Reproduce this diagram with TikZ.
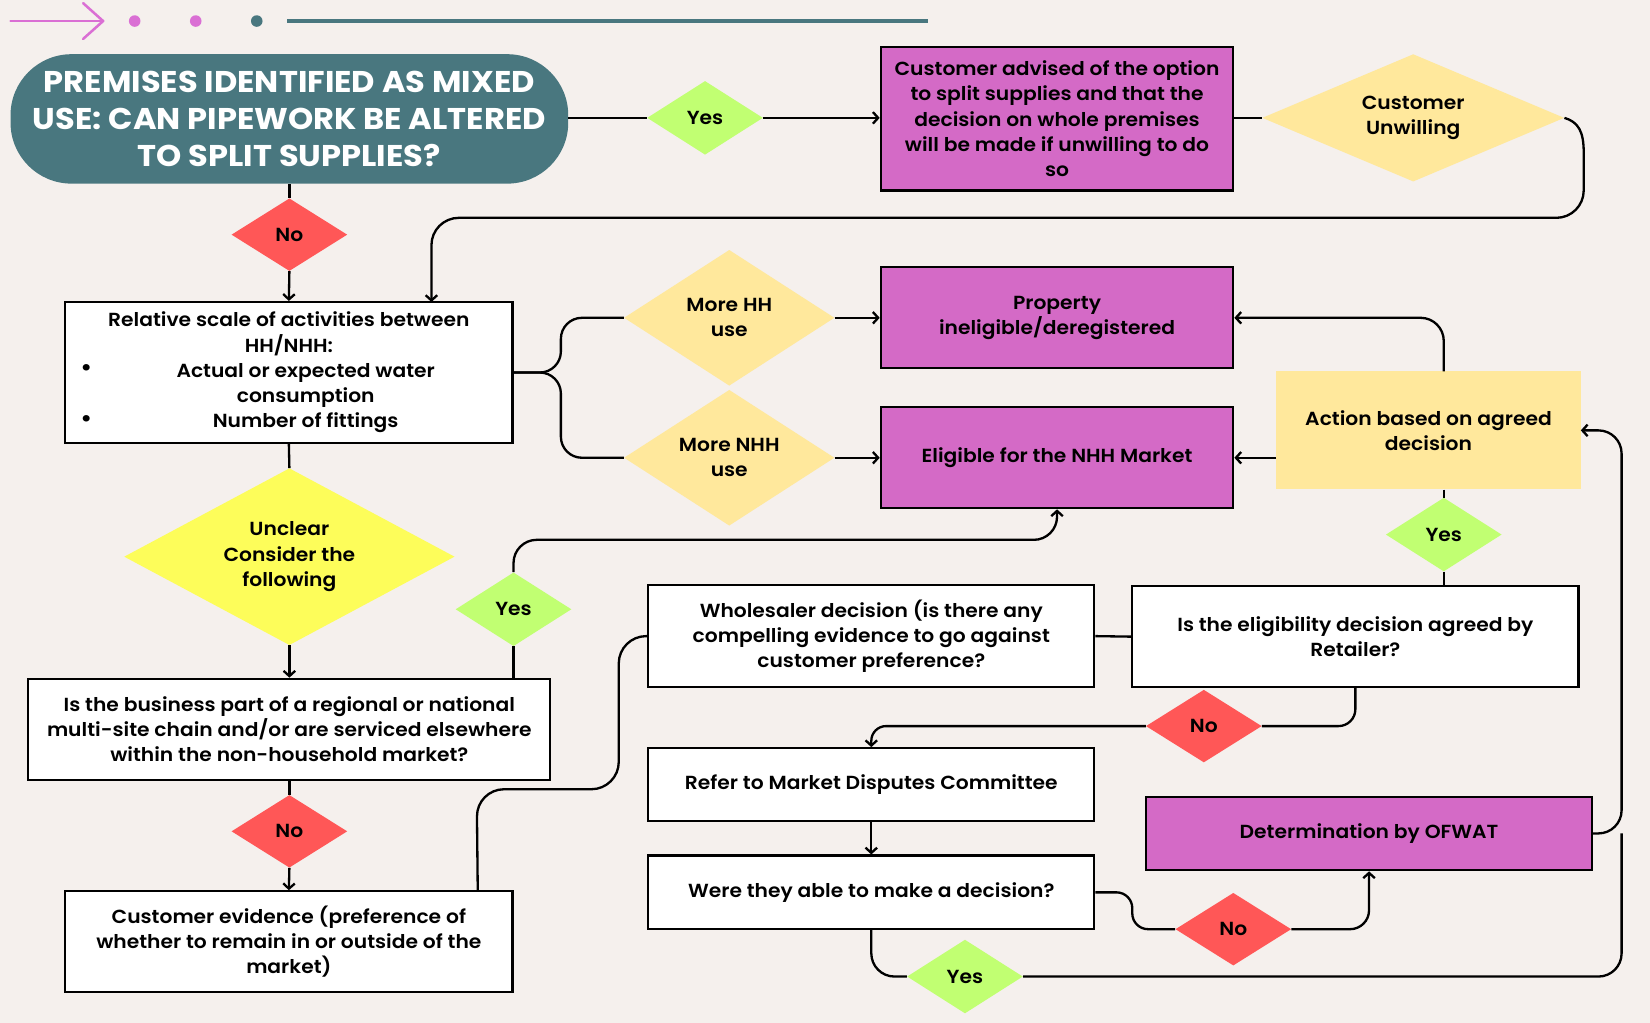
\documentclass[tikz,border=0pt]{standalone}
\usepackage{fontspec}
\setmainfont{Poppins}[UprightFont=* SemiBold, BoldFont=* Bold, FakeStretch=1.07]
\usetikzlibrary{shapes.geometric,arrows.meta}

\definecolor{bgc}{HTML}{F5F0ED}
\definecolor{tealc}{HTML}{49777F}
\definecolor{purpc}{HTML}{D46AC6}
\definecolor{greenc}{HTML}{C1FF72}
\definecolor{redc}{HTML}{FF5757}
\definecolor{paley}{HTML}{FFE89C}
\definecolor{brighty}{HTML}{FDFD5A}
\definecolor{pinkc}{HTML}{DA6FD4}

\newcommand{\bodyfs}{\fontsize{18}{24}\selectfont}

\tikzset{
  box/.style={draw=black, line width=2pt, fill=white, align=center,
    inner sep=0pt, font=\bodyfs},
  purplebox/.style={box, fill=purpc},
  dia/.style={diamond, inner sep=0pt, align=center, font=\bodyfs},
  yesdia/.style={dia, fill=greenc, minimum width=110pt, minimum height=70pt, shape aspect=1.6},
  nodia/.style={dia, fill=redc, minimum width=110pt, minimum height=69pt, shape aspect=1.6},
  usedia/.style={dia, fill=paley, minimum width=200pt, minimum height=129pt, shape aspect=1.55},
  link/.style={line width=2.2pt, rounded corners=22pt},
  arr/.style={link, -{Straight Barb[length=5pt,width=11pt]}},
}

\begin{document}
\begin{tikzpicture}[x=1pt, y=-1pt]
  \useasboundingbox[fill=bgc] (0,0) rectangle (1568,972);

  % header ornament
  \draw[pinkc, line width=2.4pt, line cap=round] (10,20) -- (98,20);
  \draw[pinkc, line width=2.4pt, line cap=round, line join=round] (79,3) -- (98,20) -- (79,37);
  \fill[pinkc] (128,20) circle (5.5);
  \fill[pinkc] (186,20) circle (5.5);
  \fill[tealc] (244,20) circle (5.5);
  \draw[tealc, line width=3pt] (273,20) -- (882,20);

  % title
  \node[fill=tealc, rounded corners=58pt, minimum width=530pt, minimum height=123pt,
        inner sep=0pt, align=center, text=white,
        font=\fontsize{28.5}{35.5}\selectfont\bfseries] (title) at (275,113)
    {PREMISES IDENTIFIED AS MIXED\\USE: CAN PIPEWORK BE ALTERED\\TO SPLIT SUPPLIES?};

  % top row
  \node[yesdia] (yesT) at (670,112) {Yes};
  \node[purplebox, minimum width=335pt, minimum height=136pt] (adv) at (1004.5,113)
    {Customer advised of the option\\to split supplies and that the\\decision on whole premises\\will be made if unwilling to do\\so};
  \node[dia, fill=paley, minimum width=287pt, minimum height=121pt, shape aspect=2.37] (unw) at (1343,112)
    {Customer\\Unwilling};

  % left column
  \node[nodia] (noT) at (275,223) {No};
  \node[box, minimum width=425pt, minimum height=134pt] (rel) at (274.5,354)
    {Relative scale of activities between\\HH/NHH:\\\hspace*{32pt}Actual or expected water\\\hspace*{32pt}consumption\\\hspace*{32pt}Number of fittings};
  \node[font=\fontsize{22}{24}\selectfont, inner sep=0pt] (bul1) at (82,352) {\textbullet};
  \node[font=\fontsize{22}{24}\selectfont, inner sep=0pt] (bul2) at (82,400) {\textbullet};
  \node[dia, fill=brighty, minimum width=314pt, minimum height=168pt, shape aspect=1.87] (unc) at (275,529)
    {Unclear\\Consider the\\following};
  \node[box, minimum width=496pt, minimum height=96pt] (bus) at (275,693)
    {Is the business part of a regional or national\\multi-site chain and/or are serviced elsewhere\\within the non-household market?};
  \node[yesdia] (yesL) at (488,579) {Yes};
  \node[nodia] (noL) at (275,790) {No};
  \node[box, minimum width=425pt, minimum height=96pt] (cust) at (274.5,895)
    {Customer evidence (preference of\\whether to remain in or outside of the\\market)};

  % middle column
  \node[usedia] (hh) at (693,302) {More HH\\use};
  \node[usedia] (nhh) at (693,435) {More NHH\\use};
  \node[purplebox, minimum width=335pt, minimum height=96pt] (prop) at (1004.5,302)
    {Property\\ineligible/deregistered};
  \node[purplebox, minimum width=335pt, minimum height=96pt] (elig) at (1004.5,435)
    {Eligible for the NHH Market};
  \node[box, minimum width=424pt, minimum height=97pt] (whole) at (828,604.5)
    {Wholesaler decision (is there any\\compelling evidence to go against\\customer preference?};
  \node[box, minimum width=424pt, minimum height=69pt] (refer) at (828,745.5)
    {Refer to Market Disputes Committee};
  \node[box, minimum width=424pt, minimum height=70pt] (were) at (828,848)
    {Were they able to make a decision?};
  \node[yesdia] (yesW) at (917,928) {Yes};

  % right column
  \node[fill=paley, minimum width=289pt, minimum height=112pt, inner sep=0pt,
        align=center, font=\bodyfs] (act) at (1357.5,409)
    {Action based on agreed\\decision};
  \node[yesdia] (yesR) at (1372,508) {Yes};
  \node[box, minimum width=424pt, minimum height=96pt] (ret) at (1288,605)
    {Is the eligibility decision agreed by\\Retailer?};
  \node[nodia] (noR) at (1144,690) {No};
  \node[purplebox, minimum width=424pt, minimum height=70pt] (ofw) at (1301,792)
    {Determination by OFWAT};
  \node[nodia] (noW) at (1172,883) {No};

  % connectors
  \draw[link] (title.east |- yesT.west) -- (yesT.west);
  \draw[arr] (yesT.east) -- (adv.west |- yesT.east);
  \draw[link] (adv.east |- unw.west) -- (unw.west);
  \draw[line width=2.2pt, -{Straight Barb[length=5pt,width=11pt]}]
    (unw.east) .. controls (1500,116) and (1505,125) .. (1505,145)
    [rounded corners=26pt] -- (1505,207) -- (410,207) -- (410,287);

  \draw[link] (title.south) -- (noT.north);
  \draw[arr] (noT.south) -- (rel.north);

  \draw[link, rounded corners=20pt] (rel.east) -- (533,354) -- (533,302) -- (hh.west);
  \draw[link, rounded corners=20pt] (rel.east) -- (533,354) -- (533,435) -- (nhh.west);
  \draw[arr] (hh.east) -- (prop.west);
  \draw[arr] (nhh.east) -- (elig.west);

  \draw[arr] (act.north -| yesR.north) |- (prop.east);
  \draw[arr] (act.west |- elig.east) -- (elig.east);
  \draw[link] (act.south -| yesR.north) -- (yesR.north);
  \draw[link] (yesR.south) -- (yesR.south |- ret.north);

  \draw[link] (whole.east) -- (ret.west);
  \draw[link, rounded corners=16pt] (ret.south) |- (noR.east);
  \draw[arr, rounded corners=14pt] (noR.west) -| (refer.north);
  \draw[arr] (refer.south) -- (were.north);

  \draw[link, rounded corners=15pt] (were.east) -- ++(35,0) |- (noW.west);
  \draw[arr, rounded corners=18pt] (noW.east) -| (ofw.south);
  \draw[arr] (ofw.east) -- ++(27,0) |- (act.east);
  \draw[link] (were.south) |- (yesW.west);
  \draw[link] (yesW.east) -| ([xshift=27pt]ofw.east);

  \draw[link] (rel.south) -- (unc.north);
  \draw[arr] (unc.south) -- (bus.north);
  \draw[link] (yesL.south) -- (yesL.south |- bus.north);
  \draw[arr] (yesL.north) |- (1004.5,513) -- (elig.south);
  \draw[link] (bus.south) -- (noL.north);
  \draw[arr] (noL.south) -- (cust.north);
  \draw[link, rounded corners=26pt] ([xshift=-34pt]cust.north east) -- (453,750) -- (588,750) -- (588,604.5) -- (whole.west);
\end{tikzpicture}
\end{document}
